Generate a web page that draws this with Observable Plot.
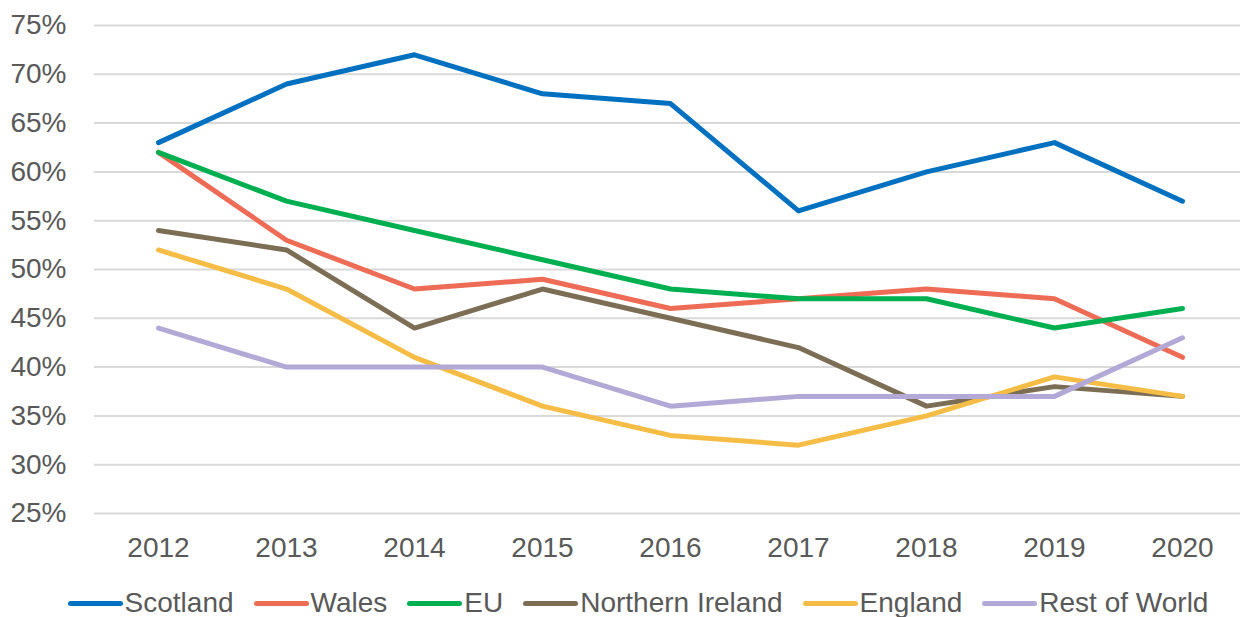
<!DOCTYPE html>
<html>
<head>
<meta charset="utf-8">
<script src="https://cdn.jsdelivr.net/npm/d3@7"></script>
<script src="https://cdn.jsdelivr.net/npm/@observablehq/plot@0.6"></script>
<style>
  html, body { margin: 0; padding: 0; background: #fff; }
  body { width: 1240px; height: 617px; overflow: hidden; font-family: "Liberation Sans", Arial, sans-serif; }
  #chart svg { display: block; }
  #legend { display: flex; justify-content: center; align-items: center; height: 30px; margin-top: 8px; padding-left: 36px; box-sizing: border-box; }
  .item { display: flex; align-items: center; margin-right: 20px; color: #595959; font-size: 28px; line-height: 1; }
  .item:last-child { margin-right: 0; }
  .sw { width: 55px; height: 5px; border-radius: 3px; margin-right: 2px; }
</style>
</head>
<body>
<div id="chart"></div>
<div id="legend"></div>
<script>
const years = [2012, 2013, 2014, 2015, 2016, 2017, 2018, 2019, 2020];
const seriesNames = ["Scotland", "Wales", "EU", "Northern Ireland", "England", "Rest of World"];
const scotland = [63, 69, 72, 68, 67, 56, 60, 63, 57];
const wales = [62, 53, 48, 49, 46, 47, 48, 47, 41];
const eu = [62, 57, 54, 51, 48, 47, 47, 44, 46];
const northernIreland = [54, 52, 44, 48, 45, 42, 36, 38, 37];
const england = [52, 48, 41, 36, 33, 32, 35, 39, 37];
const restOfWorld = [44, 40, 40, 40, 36, 37, 37, 37, 43];
const yTicks = [25, 30, 35, 40, 45, 50, 55, 60, 65, 70, 75];
const colors = ["#0070C0", "#EE6B55", "#00B050", "#7B6E55", "#F5BD45", "#B3A9D6"];

const allValues = [scotland, wales, eu, northernIreland, england, restOfWorld];
const data = [];
seriesNames.forEach((name, i) => {
  years.forEach((yr, j) => data.push({series: name, year: yr, value: allValues[i][j]}));
});

const chart = Plot.plot({
  width: 1240,
  height: 580,
  marginLeft: 94,
  marginRight: 0,
  marginTop: 25,
  marginBottom: 67,
  style: { fontFamily: '"Liberation Sans", Arial, sans-serif', color: "#595959", background: "#fff" },
  x: { type: "point", domain: years, range: [158, 1182], padding: 0, label: null },
  y: { domain: [25, 75], label: null },
  color: { domain: seriesNames, range: colors },
  marks: [
    Plot.ruleY(yTicks, { stroke: "#d9d9d9", strokeWidth: 2 }),
    Plot.axisY({ ticks: yTicks, tickFormat: d => d + "%", tickSize: 0, tickPadding: 28, fontSize: 28, fill: "#595959", label: null }),
    Plot.axisX({ ticks: years, tickFormat: d => String(d), tickSize: 0, tickPadding: 24, fontSize: 28, fill: "#595959", label: null }),
    Plot.line(data, { x: "year", y: "value", z: "series", stroke: "series", strokeWidth: 5, strokeLinecap: "round", strokeLinejoin: "round" })
  ]
});
document.getElementById("chart").appendChild(chart);

const legend = document.getElementById("legend");
seriesNames.forEach((name, i) => {
  const item = document.createElement("div");
  item.className = "item";
  const sw = document.createElement("div");
  sw.className = "sw";
  sw.style.background = colors[i];
  const label = document.createElement("span");
  label.textContent = name;
  item.appendChild(sw);
  item.appendChild(label);
  legend.appendChild(item);
});
</script>
</body>
</html>
